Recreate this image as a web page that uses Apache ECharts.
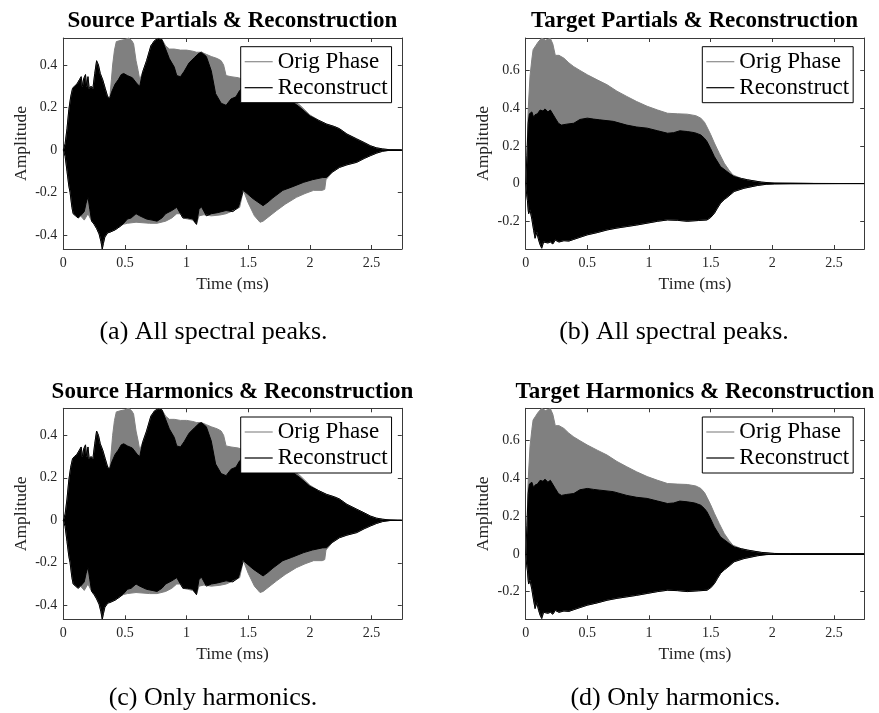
<!DOCTYPE html>
<html><head><meta charset="utf-8">
<script src="https://cdn.jsdelivr.net/npm/echarts@6/dist/echarts.min.js"></script>
<style>html,body{margin:0;padding:0;background:#fff}#c{width:879px;height:713px}</style>
</head><body><div id="c"></div>
<script>
// ---------- text ----------
const panelTitles = ['Source Partials & Reconstruction', 'Target Partials & Reconstruction',
                     'Source Harmonics & Reconstruction', 'Target Harmonics & Reconstruction'];
const captions = ['(a) All spectral peaks.', '(b) All spectral peaks.', '(c) Only harmonics.', '(d) Only harmonics.'];
const legendNames = ['Orig Phase', 'Reconstruct'];
const xName = 'Time (ms)';
const yName = 'Amplitude';

// ---------- axis limits ----------
const timeMax = 2.745;
const srcYRange = [-0.466, 0.527];
const tgtYRange = [-0.347, 0.772];

// ---------- envelopes (time ms, amplitude) ----------
const srcOrigUpper = [[0,0],[0.015,0.03],[0.03,0.1],[0.045,0.19],[0.06,0.25],[0.075,0.29],[0.09,0.30],[0.11,0.31],[0.13,0.33],[0.145,0.345],[0.155,0.30],[0.165,0.335],[0.18,0.355],[0.19,0.30],[0.2,0.345],[0.21,0.29],[0.225,0.30],[0.24,0.29],[0.255,0.36],[0.27,0.42],[0.285,0.40],[0.3,0.36],[0.32,0.33],[0.34,0.29],[0.36,0.25],[0.378,0.25],[0.39,0.33],[0.40,0.40],[0.415,0.47],[0.43,0.51],[0.46,0.515],[0.5,0.52],[0.53,0.527],[0.555,0.515],[0.57,0.50],[0.59,0.42],[0.607,0.373],[0.62,0.33],[0.645,0.37],[0.675,0.42],[0.71,0.49],[0.74,0.515],[0.77,0.525],[0.8,0.52],[0.83,0.49],[0.86,0.475],[0.9,0.475],[0.95,0.47],[1.0,0.47],[1.05,0.465],[1.08,0.46],[1.12,0.46],[1.16,0.45],[1.2,0.44],[1.25,0.43],[1.28,0.42],[1.3,0.40],[1.32,0.35],[1.36,0.345],[1.42,0.34],[1.47,0.33],[1.55,0.31],[1.65,0.29],[1.75,0.27],[1.85,0.24],[1.92,0.21],[2.0,0.165],[2.07,0.14],[2.135,0.122],[2.2,0.11],[2.24,0.10],[2.3,0.075],[2.38,0.052],[2.44,0.035],[2.49,0.02],[2.54,0.01],[2.59,0.005],[2.65,0.001],[2.745,0]];
const srcRecUpper = [[0,0],[0.015,0.03],[0.03,0.1],[0.045,0.19],[0.06,0.25],[0.075,0.29],[0.09,0.30],[0.11,0.31],[0.13,0.33],[0.145,0.345],[0.155,0.30],[0.165,0.335],[0.18,0.355],[0.19,0.30],[0.2,0.345],[0.21,0.29],[0.225,0.30],[0.24,0.29],[0.255,0.36],[0.27,0.42],[0.285,0.40],[0.3,0.36],[0.32,0.33],[0.34,0.29],[0.36,0.25],[0.375,0.24],[0.39,0.27],[0.42,0.31],[0.445,0.33],[0.47,0.355],[0.49,0.36],[0.52,0.35],[0.56,0.34],[0.6,0.31],[0.62,0.30],[0.645,0.37],[0.675,0.42],[0.71,0.49],[0.74,0.515],[0.77,0.525],[0.8,0.52],[0.83,0.475],[0.86,0.43],[0.9,0.39],[0.92,0.35],[0.95,0.345],[0.98,0.37],[1.02,0.41],[1.065,0.436],[1.1,0.455],[1.12,0.46],[1.16,0.44],[1.2,0.373],[1.235,0.265],[1.28,0.22],[1.32,0.21],[1.36,0.24],[1.4,0.25],[1.43,0.28],[1.47,0.30],[1.55,0.30],[1.65,0.28],[1.75,0.26],[1.85,0.23],[1.92,0.20],[2.0,0.16],[2.07,0.14],[2.135,0.122],[2.2,0.11],[2.24,0.10],[2.3,0.075],[2.38,0.052],[2.44,0.035],[2.49,0.02],[2.54,0.01],[2.59,0.005],[2.65,0.001],[2.745,0]];
const srcOrigLower = [[0,0],[0.015,-0.03],[0.03,-0.1],[0.045,-0.17],[0.055,-0.2],[0.07,-0.27],[0.08,-0.30],[0.1,-0.31],[0.12,-0.32],[0.14,-0.31],[0.17,-0.33],[0.185,-0.33],[0.2,-0.30],[0.215,-0.30],[0.23,-0.335],[0.25,-0.35],[0.27,-0.37],[0.29,-0.395],[0.305,-0.43],[0.316,-0.466],[0.325,-0.44],[0.337,-0.41],[0.36,-0.39],[0.378,-0.387],[0.42,-0.376],[0.46,-0.36],[0.485,-0.35],[0.52,-0.345],[0.59,-0.34],[0.7,-0.345],[0.76,-0.345],[0.83,-0.335],[0.88,-0.32],[0.92,-0.30],[0.95,-0.30],[0.97,-0.32],[1.01,-0.325],[1.05,-0.33],[1.08,-0.35],[1.1,-0.31],[1.14,-0.305],[1.2,-0.31],[1.27,-0.306],[1.32,-0.30],[1.38,-0.285],[1.43,-0.27],[1.46,-0.19],[1.5,-0.25],[1.55,-0.31],[1.595,-0.34],[1.62,-0.335],[1.73,-0.285],[1.8,-0.255],[1.89,-0.223],[1.96,-0.205],[2.03,-0.19],[2.1,-0.19],[2.12,-0.185],[2.13,-0.14],[2.18,-0.105],[2.24,-0.082],[2.3,-0.07],[2.38,-0.058],[2.44,-0.04],[2.49,-0.027],[2.54,-0.015],[2.59,-0.006],[2.65,-0.001],[2.745,0]];
const srcRecLower = [[0,0],[0.015,-0.03],[0.03,-0.1],[0.045,-0.17],[0.055,-0.2],[0.07,-0.27],[0.08,-0.30],[0.1,-0.31],[0.12,-0.32],[0.14,-0.31],[0.17,-0.29],[0.185,-0.25],[0.2,-0.22],[0.215,-0.28],[0.23,-0.335],[0.25,-0.35],[0.27,-0.37],[0.29,-0.395],[0.305,-0.43],[0.316,-0.466],[0.325,-0.44],[0.337,-0.41],[0.36,-0.39],[0.378,-0.387],[0.42,-0.376],[0.46,-0.36],[0.485,-0.348],[0.52,-0.325],[0.55,-0.32],[0.59,-0.30],[0.62,-0.31],[0.675,-0.325],[0.72,-0.33],[0.76,-0.335],[0.8,-0.32],[0.83,-0.30],[0.88,-0.285],[0.92,-0.27],[0.95,-0.30],[0.97,-0.32],[1.01,-0.32],[1.05,-0.325],[1.08,-0.35],[1.1,-0.28],[1.12,-0.267],[1.16,-0.31],[1.2,-0.30],[1.25,-0.295],[1.32,-0.285],[1.375,-0.29],[1.42,-0.27],[1.46,-0.19],[1.54,-0.23],[1.62,-0.262],[1.66,-0.245],[1.7,-0.225],[1.78,-0.19],[1.85,-0.175],[1.95,-0.152],[2.02,-0.14],[2.1,-0.13],[2.135,-0.129],[2.18,-0.105],[2.24,-0.082],[2.3,-0.07],[2.38,-0.058],[2.44,-0.04],[2.49,-0.027],[2.54,-0.015],[2.59,-0.006],[2.65,-0.001],[2.745,0]];

const tgtOrigUpper = [[0,0],[0.01,0.15],[0.02,0.39],[0.035,0.57],[0.05,0.66],[0.06,0.71],[0.08,0.73],[0.1,0.75],[0.13,0.772],[0.16,0.76],[0.2,0.77],[0.22,0.74],[0.24,0.68],[0.27,0.68],[0.31,0.665],[0.35,0.64],[0.39,0.62],[0.44,0.60],[0.5,0.577],[0.58,0.55],[0.66,0.524],[0.74,0.49],[0.82,0.462],[0.9,0.435],[0.985,0.41],[1.07,0.39],[1.15,0.373],[1.23,0.37],[1.31,0.368],[1.38,0.36],[1.42,0.347],[1.45,0.325],[1.47,0.30],[1.5,0.26],[1.53,0.215],[1.57,0.16],[1.61,0.108],[1.65,0.07],[1.68,0.046],[1.745,0.028],[1.8,0.02],[1.85,0.014],[1.92,0.007],[1.99,0.003],[2.1,0.001],[2.745,0]];
const tgtRecUpper = [[0,0],[0.01,0.15],[0.02,0.32],[0.03,0.37],[0.05,0.38],[0.065,0.35],[0.076,0.365],[0.095,0.37],[0.117,0.39],[0.14,0.385],[0.157,0.396],[0.18,0.38],[0.2,0.39],[0.215,0.395],[0.24,0.347],[0.265,0.32],[0.29,0.31],[0.33,0.315],[0.39,0.32],[0.44,0.34],[0.5,0.347],[0.55,0.342],[0.6,0.338],[0.71,0.33],[0.82,0.31],[0.9,0.30],[0.985,0.294],[1.07,0.28],[1.15,0.267],[1.2,0.27],[1.25,0.28],[1.31,0.276],[1.37,0.27],[1.42,0.258],[1.45,0.24],[1.47,0.223],[1.5,0.185],[1.53,0.143],[1.58,0.09],[1.65,0.055],[1.69,0.037],[1.75,0.027],[1.8,0.02],[1.91,0.008],[2.02,0.002],[2.15,0.001],[2.745,0]];
const tgtLower = [[0,0],[0.008,-0.06],[0.014,-0.09],[0.02,-0.14],[0.024,-0.16],[0.035,-0.14],[0.05,-0.19],[0.065,-0.25],[0.076,-0.29],[0.09,-0.26],[0.105,-0.30],[0.117,-0.325],[0.13,-0.343],[0.145,-0.31],[0.157,-0.30],[0.18,-0.315],[0.2,-0.31],[0.22,-0.32],[0.24,-0.30],[0.27,-0.31],[0.31,-0.303],[0.35,-0.305],[0.39,-0.296],[0.44,-0.285],[0.5,-0.272],[0.58,-0.26],[0.66,-0.246],[0.74,-0.236],[0.82,-0.228],[0.9,-0.22],[0.985,-0.21],[1.07,-0.2],[1.15,-0.193],[1.23,-0.195],[1.31,-0.2],[1.4,-0.196],[1.47,-0.193],[1.5,-0.18],[1.53,-0.158],[1.555,-0.13],[1.58,-0.104],[1.61,-0.085],[1.64,-0.07],[1.69,-0.042],[1.77,-0.025],[1.88,-0.01],[1.95,-0.004],[2.02,-0.002],[2.15,-0.001],[2.745,0]];

// ---------- styling / layout ----------
const F = '"Liberation Serif","Times New Roman",serif';
const GRAY = '#808080', BLACK = '#000000', AXIS = '#3a3a3a', LABEL = '#262626';
const gridPos = [[63.3, 38], [525.7, 38], [63.3, 408.3], [525.7, 408.3]];
const gridW = 338.5, gridH = 211;
const titleCx = [232.3, 694.5, 232.5, 695];
const titleTop = [10, 10, 380.5, 380.5];
const capCx = [213.5, 674, 213, 675.5];
const capTop = [319.5, 319.5, 685, 685];
const legendPos = [[240.7, 46.7], [702.3, 46.7], [240.7, 417], [702.3, 417]];
const lowerOverlap = 0.004; // lower-envelope fill reaches just past zero so the two halves join without a seam

const panels = [
  { y: srcYRange, orig: [srcOrigUpper, srcOrigLower], rec: [srcRecUpper, srcRecLower] },
  { y: tgtYRange, orig: [tgtOrigUpper, tgtLower], rec: [tgtRecUpper, tgtLower] },
  { y: srcYRange, orig: [srcOrigUpper, srcOrigLower], rec: [srcRecUpper, srcRecLower] },
  { y: tgtYRange, orig: [tgtOrigUpper, tgtLower], rec: [tgtRecUpper, tgtLower] }
];

const grid = [], xAxis = [], yAxis = [], series = [], title = [], legend = [];
panels.forEach((p, i) => {
  grid.push({ left: gridPos[i][0], top: gridPos[i][1], width: gridW, height: gridH,
              containLabel: false, outerBoundsMode: 'none', show: false });
  ['bottom', 'top'].forEach(pos => {
    const main = pos === 'bottom';
    xAxis.push({
      type: 'value', gridIndex: i, position: pos, min: 0, max: timeMax, splitNumber: 5,
      axisLine: { show: true, onZero: false, lineStyle: { color: AXIS, width: 1 } },
      axisTick: { show: true, inside: true, length: 4, lineStyle: { color: AXIS } },
      axisLabel: { show: main, margin: 7, fontFamily: F, fontSize: 14, color: LABEL,
                   showMinLabel: true, showMaxLabel: false },
      splitLine: { show: false },
      name: main ? xName : '', nameLocation: 'middle', nameGap: 26,
      nameTextStyle: { fontFamily: F, fontSize: 17.5, color: LABEL }
    });
  });
  ['left', 'right'].forEach(pos => {
    const main = pos === 'left';
    yAxis.push({
      type: 'value', gridIndex: i, position: pos, min: p.y[0], max: p.y[1], splitNumber: 5,
      axisLine: { show: true, onZero: false, lineStyle: { color: AXIS, width: 1 } },
      axisTick: { show: true, inside: true, length: 4, lineStyle: { color: AXIS } },
      axisLabel: { show: main, margin: 6, fontFamily: F, fontSize: 14, color: LABEL,
                   showMinLabel: false, showMaxLabel: false },
      splitLine: { show: false },
      name: main ? yName : '', nameLocation: 'middle', nameGap: 33,
      nameTextStyle: { fontFamily: F, fontSize: 17.5, color: LABEL }
    });
  });
  const mk = (name, data, color, isLower, zeroLine) => {
    const s = {
      type: 'line', name, data, xAxisIndex: 2 * i, yAxisIndex: 2 * i,
      showSymbol: false, symbol: 'none', silent: true, animation: false,
      itemStyle: { color }, lineStyle: { color, width: 1 },
      areaStyle: { color, opacity: 1, origin: isLower ? lowerOverlap : 'auto' }
    };
    if (zeroLine) {
      s.markLine = { silent: true, animation: false, symbol: ['none', 'none'], label: { show: false },
                     lineStyle: { color: BLACK, width: 1, type: 'solid' }, data: [{ yAxis: 0 }] };
    }
    return s;
  };
  series.push(mk(legendNames[0], p.orig[0], GRAY, false), mk(legendNames[0], p.orig[1], GRAY, true),
              mk(legendNames[1], p.rec[0], BLACK, false), mk(legendNames[1], p.rec[1], BLACK, true, true));
  title.push({ text: panelTitles[i], left: titleCx[i], top: titleTop[i], textAlign: 'center', padding: 0,
               textStyle: { fontFamily: F, fontSize: 23, fontWeight: 'bold', color: '#000' } });
  title.push({ text: captions[i], left: capCx[i], top: capTop[i], textAlign: 'center', padding: 0,
               textStyle: { fontFamily: F, fontSize: 26, fontWeight: 'normal', color: '#000' } });
  legend.push({
    left: legendPos[i][0], top: legendPos[i][1], orient: 'vertical', selectedMode: false,
    data: [{ name: legendNames[0], itemStyle: { color: '#8c8c8c' } },
           { name: legendNames[1], itemStyle: { color: '#000' } }],
    icon: 'rect', itemWidth: 28, itemHeight: 1.2, itemGap: 0, padding: [2, 4, 2, 4],
    backgroundColor: '#fff', borderColor: '#000', borderWidth: 1, borderRadius: 0, z: 10,
    textStyle: { fontFamily: F, fontSize: 23, color: '#000', lineHeight: 26 }
  });
});

const chart = echarts.init(document.getElementById('c'), null, { renderer: 'canvas' });
chart.setOption({ animation: false, backgroundColor: '#fff', grid, xAxis, yAxis, series, title, legend });
</script></body></html>
